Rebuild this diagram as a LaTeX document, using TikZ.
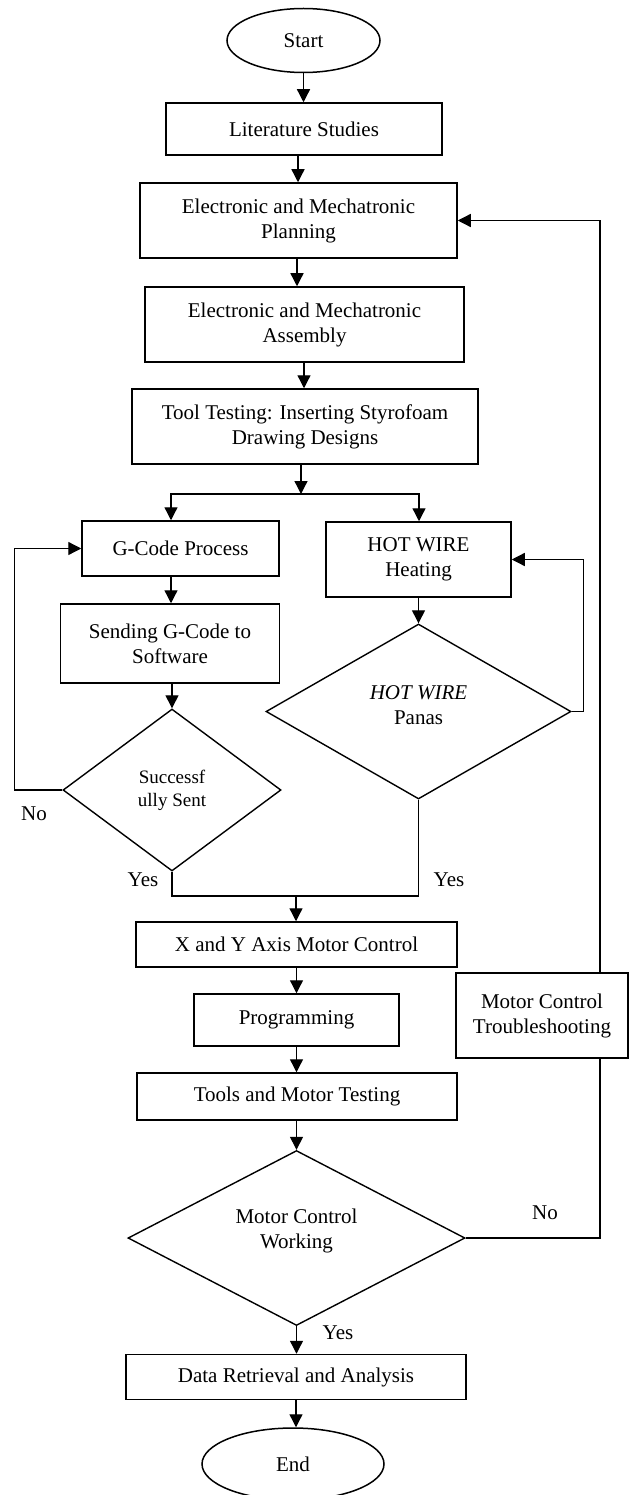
\documentclass[tikz,border=0pt]{standalone}
\usepackage{fontspec}
\setmainfont{Liberation Serif}
\usetikzlibrary{shapes.geometric,arrows.meta}
\begin{document}
\begin{tikzpicture}[x=1pt,y=-1pt,
  base/.style={align=center,inner sep=0pt,font=\fontsize{21}{25}\selectfont},
  box/.style={base,draw,line width=1.5pt,rectangle},
  ell/.style={base,draw,line width=1.5pt,ellipse},
  diam/.style={base,draw,line width=1.4pt,diamond},
  txt/.style={base},
  lbl/.style={base},
  ln/.style={line width=1.3pt},
  arr/.style={line width=1.3pt,-{Triangle[length=13pt,width=13pt]}}
]
\fill[white] (0,0) rectangle (630,1495);
\useasboundingbox (0,0) rectangle (630,1495);

% nodes
\node[ell, minimum width=153pt, minimum height=64pt] (start) at (303.5,40.5) {Start};
\node[box, minimum width=276pt, minimum height=52pt] (lit) at (304,129) {Literature Studies};
\node[box, minimum width=317pt, minimum height=75pt] (plan) at (298.5,220.5) {Electronic and Mechatronic\\Planning};
\node[box, minimum width=319pt, minimum height=75pt] (asm) at (304.5,324.5) {Electronic and Mechatronic\\Assembly};
\node[box, minimum width=346pt, minimum height=75pt] (tool) at (305,426.5) {Tool Testing: Inserting Styrofoam\\Drawing Designs};
\node[box, minimum width=197pt, minimum height=55pt] (gcode) at (180.5,548.5) {G-Code Process};
\node[box, minimum width=185pt, minimum height=75pt] (hwh) at (418.5,559.5) {HOT WIRE\\Heating};
\node[box, minimum width=219pt, minimum height=79pt] (send) at (170,643.5) {Sending G-Code to\\Software};
\node[diam, minimum width=218pt, minimum height=162pt] (succ) at (172,790) {};
\node[txt, font=\fontsize{19}{23}\selectfont] (succt) at (172,790.5) {Successf\\ully Sent};
\node[diam, minimum width=305pt, minimum height=175pt] (hwp) at (418.5,711.5) {};
\node[txt] (hwpt) at (418.5,705.5) {\textit{HOT WIRE}\\Panas};
\node[box, minimum width=321pt, minimum height=45pt] (xy) at (296.5,944.5) {X and Y Axis Motor Control};
\node[box, minimum width=205pt, minimum height=52pt] (prog) at (296.5,1020) {Programming};
\node[box, minimum width=172pt, minimum height=85pt] (trb) at (542,1015.5) {Motor Control\\Troubleshooting};
\node[box, minimum width=320pt, minimum height=47pt] (tools) at (297,1096.5) {Tools and Motor Testing};
\node[diam, minimum width=337pt, minimum height=175pt] (mcw) at (296.5,1238) {};
\node[txt] (mcwt) at (296.5,1231) {Motor Control\\Working};
\node[box, minimum width=340pt, minimum height=45pt] (data) at (296,1377) {Data Retrieval and Analysis};
\node[ell, minimum width=182pt, minimum height=72pt] (end) at (293,1464) {End};

% labels
\node[lbl] (no1) at (34,814) {No};
\node[lbl] (yes1) at (143,880) {Yes};
\node[lbl] (yes2) at (449,880) {Yes};
\node[lbl] (no2) at (545,1213) {No};
\node[lbl] (yes3) at (338,1333) {Yes};

% helper coordinates
\coordinate (s) at (301,494);
\coordinate (cL) at (171,0);
\coordinate (cR) at (419,0);
\coordinate (m) at (296,896);
\coordinate (rx) at (600,0);

% connectors
\draw[arr] (start.south) -- (start.south |- lit.north);
\draw[arr] ([xshift=-6pt]lit.south) -- ([xshift=-6pt]lit.south |- plan.north);
\draw[arr] ([xshift=-1.5pt]plan.south) -- ([xshift=-1.5pt]plan.south |- asm.north);
\draw[arr] ([xshift=-0.5pt]asm.south) -- ([xshift=-0.5pt]asm.south |- tool.north);
\draw[arr] (s |- tool.south) -- (s);
\draw[arr] (s) -| (cL |- gcode.north);
\draw[arr] (s) -| (cR |- hwh.north);
\draw[arr] (cL |- gcode.south) -- (cL |- send.north);
\draw[arr] (succ.north |- send.south) -- (succ.north);
\draw[arr] (hwp.north |- hwh.south) -- (hwp.north);
\draw[arr] (succ.west) -- ++(-48,0) |- (gcode.west);
\draw[arr] (hwp.east) -- ++(12,0) |- (hwh.east);
\draw[ln] (succ.south) |- (m -| hwp.south) -- (hwp.south);
\draw[arr] (m) -- (m |- xy.north);
\draw[arr] (xy.south) -- (xy.south |- prog.north);
\draw[arr] (prog.south) -- (prog.south |- tools.north);
\draw[arr] (mcw.north |- tools.south) -- (mcw.north);
\draw[arr] (mcw.south) -- (mcw.south |- data.north);
\draw[arr] (data.south) -- (data.south |- end.north);
\draw[ln] (mcw.east) -| (rx |- trb.south);
\draw[arr] (rx |- trb.north) |- (plan.east);
\end{tikzpicture}
\end{document}
